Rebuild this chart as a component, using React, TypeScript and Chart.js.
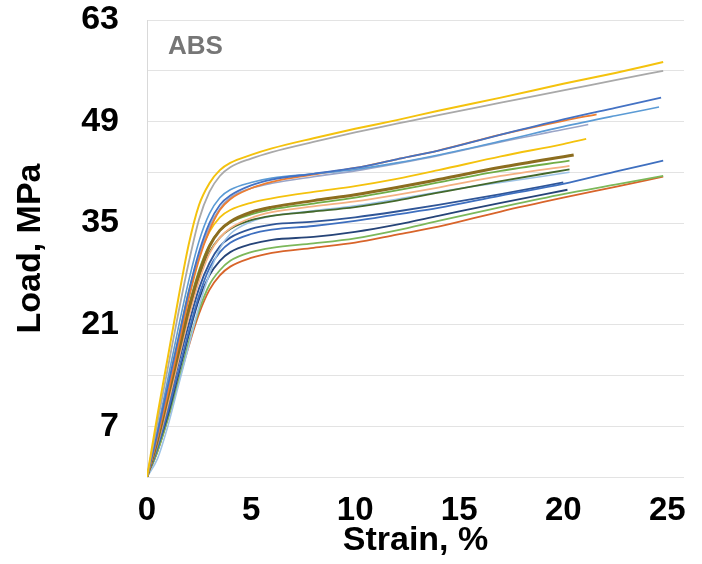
import { useEffect, useRef } from 'react';
import { Chart, registerables } from 'chart.js';

Chart.register(...registerables);

const FONT = "'Liberation Sans', Arial, Helvetica, sans-serif";

// Axis ticks
const xTickValues = [0, 5, 10, 15, 20, 25];
const yTickValues = [0, 7, 14, 21, 28, 35, 42, 49, 56, 63];
const yLabelledTicks = [7, 21, 35, 49, 63];

// Strain (%) / Load (MPa) curves of ABS specimens
const strainA = [0, 0.5, 1, 1.5, 2, 2.5, 3, 3.5, 4, 5, 6, 8, 10, 12, 14, 17, 20, 22.5, 24.8];
const loadA = [0, 8.5, 16.5, 24.5, 32, 37.5, 40.5, 42.3, 43.3, 44.4, 45.3, 46.7, 48.0, 49.2, 50.5, 52.3, 54.2, 55.7, 57.2];

const strainB = [0, 0.5, 1, 1.5, 2, 2.5, 3, 3.5, 4, 5, 6, 8, 10, 12, 14, 17, 20, 22.5, 24.8];
const loadB = [0, 7.5, 15, 22.5, 29.5, 35.5, 39.3, 41.5, 42.7, 43.9, 44.8, 46.2, 47.5, 48.7, 49.9, 51.6, 53.3, 54.7, 56.0];

const strainC = [0, 0.5, 1, 1.5, 2, 2.5, 3, 3.5, 4, 5, 6, 8, 10, 12, 14, 17, 20, 22.5, 24.7];
const loadC = [0, 6, 12.5, 19, 25.5, 31, 35, 37.5, 38.8, 40.2, 41, 41.8, 42.6, 43.8, 45.0, 47.2, 49.3, 50.9, 52.3];

const strainD = [0, 0.5, 1, 1.5, 2, 2.5, 3, 3.5, 4, 5, 6, 8, 10, 12, 14, 17, 20, 22.5, 24.6];
const loadD = [0, 6.5, 13.5, 20.5, 27, 32.5, 36.3, 38.5, 39.6, 40.6, 41.2, 41.8, 42.4, 43.3, 44.4, 46.3, 48.3, 49.8, 51.0];

const strainE = [0, 0.5, 1, 1.5, 2, 2.5, 3, 3.5, 4, 5, 6, 8, 10, 12, 14, 17, 20, 21.6];
const loadE = [0, 5.5, 11.5, 18, 24.5, 30, 34, 36.8, 38.3, 39.8, 40.7, 41.7, 42.6, 43.8, 45.0, 47.2, 49.1, 50.0];

const strainF = [0, 0.5, 1, 1.5, 2, 2.5, 3, 3.5, 4, 5, 6, 8, 10, 12, 14, 17, 20, 21.2];
const loadF = [0, 5.5, 12, 18.5, 25, 30.5, 34.5, 37, 38.5, 39.8, 40.5, 41.4, 42.2, 43.2, 44.3, 46.2, 47.9, 48.6];

const strainG = [0, 0.5, 1, 1.5, 2, 2.5, 3, 3.5, 4, 5, 6, 8, 10, 12, 14, 17, 20, 21.1];
const loadG = [0, 6, 12.5, 19, 25.5, 30.5, 33.8, 35.8, 36.8, 37.8, 38.4, 39.3, 40.1, 41.1, 42.3, 44.2, 45.9, 46.6];

const strainH = [0, 0.5, 1, 1.5, 2, 2.5, 3, 3.5, 4, 5, 6, 8, 10, 12, 14, 17, 20.5];
const loadH = [0, 5, 11, 17, 23, 28, 31.8, 34, 35.2, 36.5, 37.2, 38.1, 38.9, 39.9, 41.0, 42.7, 44.4];

const strainI = [0, 0.5, 1, 1.5, 2, 2.5, 3, 3.5, 4, 5, 6, 8, 10, 12, 14, 17, 20.3];
const loadI = [0, 5.5, 11.5, 17.5, 23.5, 28.5, 32, 34, 35.1, 36.2, 36.9, 37.7, 38.5, 39.5, 40.6, 42.2, 43.6];

const strainJ = [0, 0.5, 1, 1.5, 2, 2.5, 3, 3.5, 4, 5, 6, 8, 10, 12, 14, 17, 20.3];
const loadJ = [0, 4.5, 10, 16, 22, 27, 30.8, 33, 34.3, 35.7, 36.5, 37.3, 38.0, 38.9, 39.9, 41.5, 42.9];

const strainK = [0, 0.5, 1, 1.5, 2, 2.5, 3, 3.5, 4, 5, 6, 8, 10, 12, 14, 17, 20.3];
const loadK = [0, 5, 10.5, 16.5, 22.5, 27.5, 31, 33, 34.2, 35.4, 36, 36.6, 37.2, 38.1, 39.2, 40.8, 42.4];

const strainL = [0, 0.5, 1, 1.5, 2, 2.5, 3, 3.5, 4, 5, 6, 8, 10, 12, 14, 17, 20.3];
const loadL = [0, 2.5, 7, 12.5, 18, 23.5, 28, 31.5, 33.5, 35.2, 36, 36.7, 37.4, 38.3, 39.3, 40.6, 42.0];

const strainM = [0, 0.5, 1, 1.5, 2, 2.5, 3, 3.5, 4, 5, 6, 8, 10, 12, 14, 17, 20, 22.5, 24.8];
const loadM = [0, 4, 9, 14.5, 20, 25, 28.8, 31, 32.3, 33.5, 34.1, 34.6, 35.3, 36.2, 37.1, 38.8, 40.4, 42.1, 43.6];

const strainN = [0, 0.5, 1, 1.5, 2, 2.5, 3, 3.5, 4, 5, 6, 8, 10, 12, 14, 17, 20];
const loadN = [0, 4.5, 9.5, 15.5, 21, 26, 29.5, 31.8, 33, 34.2, 34.8, 35.2, 35.8, 36.6, 37.5, 39, 40.6];

const strainO = [0, 0.5, 1, 1.5, 2, 2.5, 3, 3.5, 4, 5, 6, 8, 10, 12, 14, 17, 20.2];
const loadO = [0, 4, 8.5, 14, 19.5, 24.5, 27.8, 29.8, 31, 32.1, 32.7, 33.1, 33.8, 34.8, 36, 37.8, 39.6];

const strainP = [0, 0.5, 1, 1.5, 2, 2.5, 3, 3.5, 4, 5, 6, 8, 10, 12, 14, 17, 20, 22.5, 24.8];
const loadP = [0, 3.5, 8, 13, 18.5, 23, 26.5, 28.5, 29.8, 31, 31.6, 32.2, 32.9, 34.0, 35.3, 37.2, 39, 40.3, 41.5];

const strainQ = [0, 0.5, 1, 1.5, 2, 2.5, 3, 3.5, 4, 5, 6, 8, 10, 12, 14, 17, 20, 22.5, 24.8];
const loadQ = [0, 3.5, 8, 13, 18, 22.5, 25.8, 27.8, 29, 30.2, 30.9, 31.6, 32.3, 33.4, 34.5, 36.6, 38.5, 40, 41.4];

const strainSeries = [strainA, strainB, strainC, strainD, strainE, strainF, strainG, strainH, strainI, strainJ, strainK, strainL, strainM, strainN, strainO, strainP, strainQ];
const loadSeries = [loadA, loadB, loadC, loadD, loadE, loadF, loadG, loadH, loadI, loadJ, loadK, loadL, loadM, loadN, loadO, loadP, loadQ];

// Styles
const seriesColors = ['#F4C20D', '#A9A9A9', '#4472C4', '#5B9BD5', '#ED7D31', '#9AA5C8', '#F4C20D', '#8C6D1F', '#70AD47', '#F4B183', '#43682B', '#9DC3E6', '#3E6FBF', '#2F5597', '#264478', '#7CB85A', '#D8642A'];
const seriesWidths = [2, 1.8, 1.8, 1.6, 1.8, 1.6, 1.8, 3, 1.8, 1.8, 1.8, 1.6, 1.8, 1.8, 1.8, 1.8, 1.8];

const absLabelPlugin = {
  id: 'absLabel',
  afterDraw(chart: any) {
    const { ctx, chartArea } = chart;
    ctx.save();
    ctx.font = `bold 26px ${FONT}`;
    ctx.fillStyle = '#767676';
    ctx.textAlign = 'left';
    ctx.textBaseline = 'middle';
    ctx.fillText('ABS', chartArea.left + 21, chartArea.top + 27);
    ctx.restore();
  },
};

export default function App() {
  const canvasRef = useRef<HTMLCanvasElement | null>(null);

  useEffect(() => {
    if (!canvasRef.current) return;
    const datasets = strainSeries.map((xs, i) => ({
      label: `ABS ${i + 1}`,
      data: xs.map((x, j) => ({ x, y: loadSeries[i][j] })),
      borderColor: seriesColors[i],
      backgroundColor: seriesColors[i],
      borderWidth: seriesWidths[i],
      pointRadius: 0,
      fill: false,
      cubicInterpolationMode: 'monotone' as const,
    }));

    const chart = new Chart(canvasRef.current, {
      type: 'line',
      data: { datasets },
      options: {
        animation: false,
        responsive: false,
        devicePixelRatio: 1,
        events: [],
        layout: { padding: { left: 0, right: 18, top: 20, bottom: 0 } },
        plugins: {
          legend: { display: false },
          tooltip: { enabled: false },
        },
        scales: {
          x: {
            type: 'linear',
            min: 0,
            max: 25.8,
            afterBuildTicks: (scale: any) => {
              scale.ticks = xTickValues.map((value) => ({ value }));
            },
            afterFit: (scale: any) => {
              scale.height = 87;
              scale.paddingLeft = 0;
              scale.paddingRight = 0;
            },
            grid: { display: false, drawTicks: false },
            border: { display: false },
            ticks: {
              autoSkip: false,
              maxRotation: 0,
              padding: 14,
              color: '#000',
              font: { family: FONT, size: 33, weight: 'bold' },
            },
            title: {
              display: true,
              text: 'Strain, %',
              color: '#000',
              font: { family: FONT, size: 34, weight: 'bold' },
              padding: { top: 0, bottom: 3 },
            },
          },
          y: {
            type: 'linear',
            min: 0,
            max: 63,
            afterBuildTicks: (scale: any) => {
              scale.ticks = yTickValues.map((value) => ({ value }));
            },
            afterFit: (scale: any) => {
              scale.width = 147;
              scale.paddingTop = 0;
              scale.paddingBottom = 0;
            },
            grid: { color: '#e3e3e3', lineWidth: 1, drawTicks: false },
            border: { display: true, color: '#d9d9d9' },
            ticks: {
              autoSkip: false,
              padding: 28,
              color: '#000',
              font: { family: FONT, size: 34, weight: 'bold' },
              callback: (value: any) => (yLabelledTicks.includes(Number(value)) ? String(value) : ''),
            },
            title: {
              display: true,
              text: 'Load, MPa',
              color: '#000',
              font: { family: FONT, size: 34, weight: 'bold' },
              padding: { top: 10, bottom: 0 },
            },
          },
        },
      },
      plugins: [absLabelPlugin],
    });

    return () => chart.destroy();
  }, []);

  return (
    <div style={{ position: 'fixed', left: 0, top: 0, width: 702, height: 564, background: '#fff' }}>
      <canvas ref={canvasRef} width={702} height={564} style={{ display: 'block' }} />
    </div>
  );
}
